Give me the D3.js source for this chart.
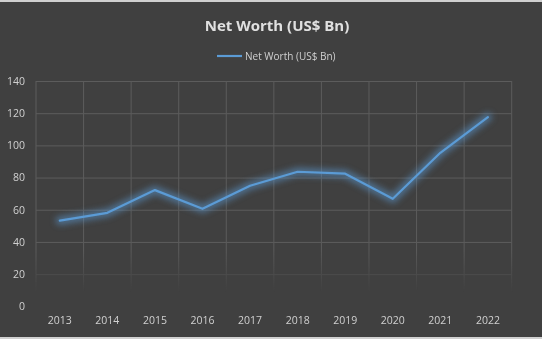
<!DOCTYPE html>
<html><head><meta charset="utf-8">
<script src="https://cdn.jsdelivr.net/npm/d3@7"></script>
<style>html,body{margin:0;padding:0;background:#404040;overflow:hidden}</style>
</head><body>
<svg id="c" width="542" height="339"></svg>
<script>
const years = ["2013","2014","2015","2016","2017","2018","2019","2020","2021","2022"];
const netWorth = [53.2, 58.1, 72.2, 60.6, 74.9, 83.6, 82.4, 66.8, 95.4, 117.6];
const yTicks = [0, 20, 40, 60, 80, 100, 120, 140];
const seriesName = "Net Worth (US$ Bn)";
const titleText = "Net Worth (US$ Bn)";

(function () {
const W = 542, H = 339;
const svg = d3.select("#c");
const font = "'Open Sans', 'Noto Sans', sans-serif";
svg.append("rect").attr("width", W).attr("height", H).attr("fill", "#404040");
svg.append("rect").attr("x", 0).attr("y", 0).attr("width", W).attr("height", 2).attr("fill", "#d0d0d0");
svg.append("rect").attr("x", 0).attr("y", H - 2).attr("width", W).attr("height", 2).attr("fill", "#d0d0d0");

const pL = 36, pR = 511.7, pT = 81, pB = 306.3;
const x = d3.scaleBand().domain(years).range([pL, pR]);
const y = d3.scaleLinear().domain([0, 140]).range([pB, pT]);

const defs = svg.append("defs");
const grad = defs.append("linearGradient").attr("id", "fade").attr("gradientUnits", "userSpaceOnUse")
  .attr("x1", 0).attr("x2", 0).attr("y1", 250).attr("y2", 292);
grad.append("stop").attr("offset", 0).attr("stop-color", "#fff").attr("stop-opacity", 1);
grad.append("stop").attr("offset", 1).attr("stop-color", "#fff").attr("stop-opacity", 0);
defs.append("mask").attr("id", "m").attr("maskUnits", "userSpaceOnUse")
  .attr("x", 0).attr("y", 0).attr("width", W).attr("height", H)
  .append("rect").attr("width", W).attr("height", H).attr("fill", "url(#fade)");
const glow = defs.append("filter").attr("id", "glow").attr("x", "-20%").attr("y", "-50%").attr("width", "140%").attr("height", "200%");
glow.append("feGaussianBlur").attr("stdDeviation", 3);

const grid = svg.append("g").attr("mask", "url(#m)");
grid.append("g").attr("transform", `translate(${pL},0)`)
  .call(d3.axisLeft(y).tickValues(yTicks).tickSize(-(pR - pL)).tickFormat(""))
  .call(g => g.select(".domain").remove())
  .call(g => g.selectAll("line").attr("stroke", "#5c5c5c").attr("stroke-width", 1));
const edges = years.map(d => x(d)).concat([x(years[years.length - 1]) + x.bandwidth()]);
grid.append("g").selectAll("line").data(edges).join("line")
  .attr("x1", d => d).attr("x2", d => d).attr("y1", pT).attr("y2", pB)
  .attr("stroke", "#5c5c5c").attr("stroke-width", 1);

svg.append("g").attr("transform", `translate(${pL},0)`)
  .call(d3.axisLeft(y).tickValues(yTicks).tickSize(0).tickPadding(11))
  .call(g => g.select(".domain").remove())
  .call(g => g.selectAll("text").attr("fill", "#d0d0d0").style("font-family", font).style("font-size", "10.5px"));
svg.append("g").attr("transform", `translate(0,${pB})`)
  .call(d3.axisBottom(x).tickSize(0).tickPadding(10))
  .call(g => g.select(".domain").remove())
  .call(g => g.selectAll("text").attr("fill", "#d0d0d0").style("font-family", font).style("font-size", "10.5px"));

const line = d3.line().x((d, i) => x(years[i]) + x.bandwidth() / 2).y(d => y(d));
svg.append("path").datum(netWorth).attr("d", line).attr("fill", "none")
  .attr("stroke", "#5b9bd5").attr("stroke-opacity", 0.55).attr("stroke-width", 8)
  .attr("stroke-linejoin", "round").attr("stroke-linecap", "round").attr("filter", "url(#glow)");
svg.append("path").datum(netWorth).attr("d", line).attr("fill", "none")
  .attr("stroke", "#5b9bd5").attr("stroke-width", 2.2).attr("stroke-linejoin", "round").attr("stroke-linecap", "round");

svg.append("text").attr("x", 277).attr("y", 31).attr("text-anchor", "middle")
  .attr("fill", "#e0e0e0").style("font-family", font).style("font-size", "15px").style("font-weight", "bold")
  .text(titleText);
svg.append("line").attr("x1", 217).attr("x2", 242).attr("y1", 56).attr("y2", 56)
  .attr("stroke", "#5b9bd5").attr("stroke-width", 2.2);
svg.append("text").attr("x", 245).attr("y", 59.5).attr("fill", "#d0d0d0")
  .style("font-family", font).style("font-size", "10px").text(seriesName);
})();
</script>
</body></html>
